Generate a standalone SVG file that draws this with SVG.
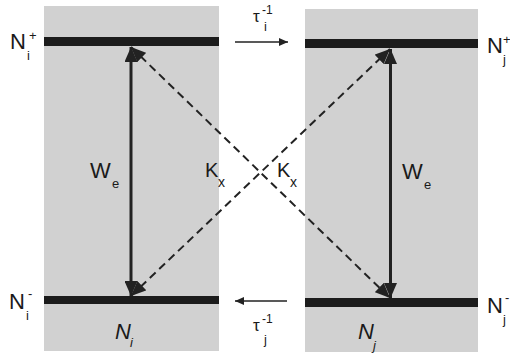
<svg xmlns="http://www.w3.org/2000/svg" width="510" height="356" viewBox="0 0 510 356">
<defs>
<style>
.panel{fill:#d1d1d1}
.bar{fill:#1c1c1c}
.solid{stroke:#222;stroke-width:3;fill:none}
.dash{stroke:#222;stroke-width:2;stroke-dasharray:8 5;fill:none}
.thin{stroke:#222;stroke-width:1.6;fill:none}
text{font-family:"Liberation Sans",Arial,sans-serif;fill:#1a1a1a}
.big{font-size:22px}
.sm{font-size:13px}
.it{font-style:italic}
</style>
<marker id="ah" viewBox="0 0 15 13" refX="15" refY="6.5" markerWidth="15" markerHeight="13" markerUnits="userSpaceOnUse" orient="auto-start-reverse">
<path d="M0,0 L15,6.5 L0,13 z" fill="#222"/>
</marker>
<marker id="ahs" viewBox="0 0 9 8" refX="9" refY="4" markerWidth="9" markerHeight="8" markerUnits="userSpaceOnUse" orient="auto-start-reverse">
<path d="M0,0 L9,4 L0,8 z" fill="#222"/>
</marker>
</defs>
<rect width="510" height="356" fill="#fff"/>
<g id="panel-i">
<rect class="panel" x="44" y="6" width="175" height="345"/>
<text class="big it" x="115" y="339">N</text><text class="sm it" x="130" y="347">i</text>
</g>
<g id="panel-j">
<rect class="panel" x="305" y="9" width="173" height="343"/>
<text class="big it" x="358" y="339">N</text><text class="sm it" x="373" y="350">j</text>
</g>
<g id="level-i-plus">
<rect class="bar" x="44" y="37" width="175" height="9"/>
<text class="big" x="10" y="49">N</text><text class="sm" x="29" y="40">+</text><text class="sm" x="27" y="60">i</text>
</g>
<g id="level-j-plus">
<rect class="bar" x="305" y="39" width="173" height="9"/>
<text class="big" x="487" y="53">N</text><text class="sm" x="503" y="44">+</text><text class="sm" x="503" y="64">j</text>
</g>
<g id="level-i-minus">
<rect class="bar" x="44" y="296" width="175" height="8"/>
<text class="big" x="9" y="309">N</text><text class="sm" x="28" y="298">-</text><text class="sm" x="26" y="320">i</text>
</g>
<g id="level-j-minus">
<rect class="bar" x="305" y="298" width="173" height="9"/>
<text class="big" x="487" y="313">N</text><text class="sm" x="505" y="302">-</text><text class="sm" x="503" y="324">j</text>
</g>
<g id="connectors">
<line class="solid" x1="131" y1="47" x2="131" y2="296" marker-start="url(#ah)" marker-end="url(#ah)"/>
<line class="solid" x1="390.5" y1="49" x2="390.5" y2="298" marker-start="url(#ah)" marker-end="url(#ah)"/>
<line class="dash" x1="131" y1="47" x2="390" y2="298" marker-start="url(#ah)" marker-end="url(#ah)"/>
<line class="dash" x1="131" y1="296" x2="390" y2="49" marker-start="url(#ah)" marker-end="url(#ah)"/>
<line class="thin" x1="235" y1="42" x2="288" y2="42" marker-end="url(#ahs)"/>
<line class="thin" x1="235" y1="301" x2="287" y2="301" marker-start="url(#ahs)"/>
</g>
<g id="labels">
<text class="big" x="90" y="178">W</text><text class="sm" x="112" y="188">e</text>
<text class="big" x="402" y="179">W</text><text class="sm" x="424" y="189">e</text>
<text style="font-size:20px" x="205" y="177">K</text><text style="font-size:14px" x="218" y="187">x</text>
<text style="font-size:20px" x="277" y="177">K</text><text style="font-size:14px" x="290" y="187">x</text>
<text style="font-size:17px" x="253" y="22">τ</text><text style="font-size:12px" x="262" y="14">-1</text><text class="sm" x="264" y="31">i</text>
<text style="font-size:17px" x="253" y="331">τ</text><text style="font-size:12px" x="262" y="323">-1</text><text class="sm" x="264" y="344">j</text>
</g>
</svg>
